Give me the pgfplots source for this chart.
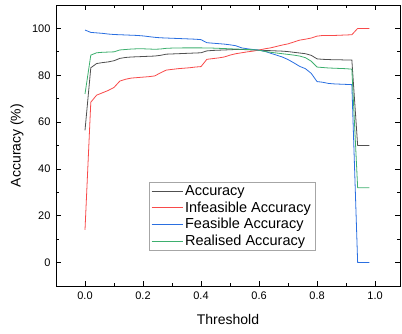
\documentclass[border=0pt]{standalone}
\usepackage{fontspec}
\setmainfont{Liberation Sans}
\usepackage{pgfplots}
\pgfplotsset{compat=1.18}
\definecolor{cacc}{HTML}{505050}
\definecolor{cinf}{HTML}{F84A4A}
\definecolor{cfea}{HTML}{2A6FE0}
\definecolor{crea}{HTML}{3DAF6E}
\begin{document}
\begin{tikzpicture}
\begin{axis}[
  name=ax,
  scale only axis, width=344pt, height=281pt,
  xmin=-0.1, xmax=1.086, ymin=-10, ymax=110,
  xtick={0,0.2,0.4,0.6,0.8,1.0}, minor x tick num=1,
  ytick={0,20,40,60,80,100}, minor y tick num=1,
  tick align=inside, major tick length=5pt, minor tick length=3pt,
  axis line style={line width=0.9pt},
  every tick/.style={black, line width=0.7pt},
  xticklabel style={/pgf/number format/fixed, /pgf/number format/precision=1, /pgf/number format/fixed zerofill},
  /pgf/number format/assume math mode=true,
  tick label style={font=\fontsize{11}{13}\selectfont},
  xlabel={Threshold}, ylabel={Accuracy (\%)},
  label style={font=\fontsize{14}{16}\selectfont},
  xlabel style={at={(axis description cs:0.5,0)}, anchor=center, yshift=-33pt},
  ylabel style={at={(axis description cs:0,0.5)}, anchor=center, yshift=39pt},
  xticklabel shift=2pt, yticklabel shift=2pt,
  legend style={at={(axis description cs:0.270,0.125)}, anchor=south west,
    draw=gray!70, fill=white, font=\fontsize{14.5}{17.7}\selectfont,
    inner xsep=2pt, inner ysep=1.5pt, row sep=0.8pt},
  legend cell align=left,
  every axis plot/.append style={line width=0.8pt},
]
\addplot[draw=cacc, legend image code/.code={\draw[draw=cacc, line width=1pt] (0pt,0pt) -- (31pt,0pt);}] coordinates {(0,56.5)(0.02,83.2)(0.04,85)(0.06,85.4)(0.08,85.7)(0.10,86.2)(0.12,87.2)(0.14,87.6)(0.16,87.8)(0.18,87.9)(0.20,88)(0.22,88.1)(0.24,88.2)(0.26,88.5)(0.28,89)(0.30,89.1)(0.32,89.2)(0.34,89.3)(0.36,89.4)(0.38,89.5)(0.40,89.6)(0.42,90.4)(0.44,90.6)(0.46,90.7)(0.48,90.8)(0.50,90.9)(0.52,91)(0.54,91)(0.56,90.9)(0.58,90.8)(0.60,90.7)(0.62,90.6)(0.64,90.5)(0.66,90.4)(0.68,90.3)(0.70,90.1)(0.72,89.8)(0.74,89.5)(0.76,89.2)(0.78,88.5)(0.80,87)(0.82,86.8)(0.84,86.7)(0.86,86.6)(0.88,86.6)(0.90,86.5)(0.92,86.5)(0.94,50)(0.96,50)(0.98,50)};
\addlegendentry{Accuracy}
\addplot[draw=cinf, legend image code/.code={\draw[draw=cinf, line width=1pt] (0pt,0pt) -- (31pt,0pt);}] coordinates {(0,14)(0.02,68.5)(0.04,71.5)(0.06,72.5)(0.08,73.5)(0.10,74.8)(0.12,77.5)(0.14,78.3)(0.16,78.8)(0.18,79)(0.20,79.2)(0.22,79.4)(0.24,79.7)(0.26,81)(0.28,82.2)(0.30,82.5)(0.32,82.8)(0.34,83)(0.36,83.2)(0.38,83.5)(0.40,83.7)(0.42,86.8)(0.44,87.1)(0.46,87.4)(0.48,87.8)(0.50,88.6)(0.52,89.2)(0.54,89.6)(0.56,90)(0.58,90.3)(0.60,90.8)(0.62,91.3)(0.64,91.7)(0.66,92.3)(0.68,92.9)(0.70,93.4)(0.72,94.2)(0.74,95)(0.76,95.4)(0.78,95.9)(0.80,96.7)(0.82,97)(0.84,97)(0.86,97)(0.88,97.1)(0.90,97.2)(0.92,97.3)(0.94,100)(0.96,100)(0.98,100)};
\addlegendentry{Infeasible Accuracy}
\addplot[draw=cfea, legend image code/.code={\draw[draw=cfea, line width=1pt] (0pt,0pt) -- (31pt,0pt);}] coordinates {(0,99.3)(0.02,98.3)(0.04,98.1)(0.06,97.9)(0.08,97.6)(0.10,97.4)(0.12,97.3)(0.14,97.2)(0.16,97.1)(0.18,97)(0.20,96.8)(0.22,96.5)(0.24,96.2)(0.26,96)(0.28,95.9)(0.30,95.8)(0.32,95.7)(0.34,95.6)(0.36,95.5)(0.38,95.4)(0.40,95.2)(0.42,93.9)(0.44,93.7)(0.46,93.5)(0.48,93.3)(0.50,93)(0.52,92.6)(0.54,91.7)(0.56,91.3)(0.58,91)(0.60,90.7)(0.62,90.2)(0.64,89.4)(0.66,88.6)(0.68,87.8)(0.70,86.7)(0.72,85.3)(0.74,83.8)(0.76,82.8)(0.78,80.8)(0.80,77.3)(0.82,77)(0.84,76.5)(0.86,76.3)(0.88,76.2)(0.90,76.1)(0.92,76)(0.94,0)(0.96,0)(0.98,0)};
\addlegendentry{Feasible Accuracy}
\addplot[draw=crea, legend image code/.code={\draw[draw=crea, line width=1pt] (0pt,0pt) -- (31pt,0pt);}] coordinates {(0,72)(0.02,88.6)(0.04,89.6)(0.06,89.8)(0.08,89.9)(0.10,90)(0.12,90.8)(0.14,91)(0.16,91.2)(0.18,91.3)(0.20,91.3)(0.22,91.2)(0.24,91.1)(0.26,91.2)(0.28,91.5)(0.30,91.6)(0.32,91.6)(0.34,91.7)(0.36,91.7)(0.38,91.7)(0.40,91.7)(0.42,91.6)(0.44,91.6)(0.46,91.5)(0.48,91.4)(0.50,91.3)(0.52,91.2)(0.54,91.1)(0.56,91)(0.58,90.9)(0.60,90.7)(0.62,90.2)(0.64,89.8)(0.66,89.5)(0.68,89.2)(0.70,88.9)(0.72,88.6)(0.74,88.2)(0.76,87.5)(0.78,86)(0.80,83.5)(0.82,83.3)(0.84,83.1)(0.86,83)(0.88,82.9)(0.90,82.8)(0.92,82.6)(0.94,32)(0.96,32)(0.98,32)};
\addlegendentry{Realised Accuracy}
\end{axis}
\pgfresetboundingbox
\path (ax.south west) ++(-56pt,-47pt) rectangle ++(402pt,333pt);
\end{tikzpicture}
\end{document}
